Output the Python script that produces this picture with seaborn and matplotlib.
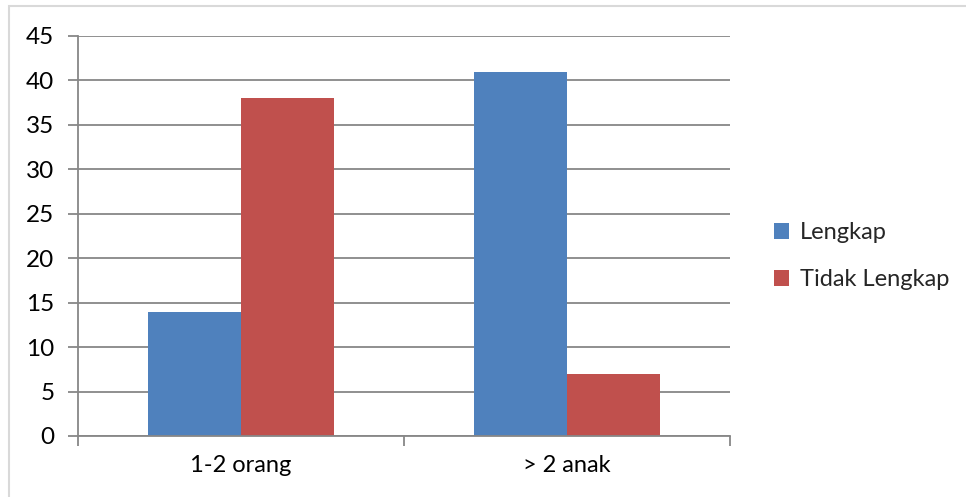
import matplotlib
matplotlib.use("Agg")
import matplotlib.pyplot as plt
from matplotlib.patches import Rectangle
import seaborn as sns
import pandas as pd

categories = ["1-2 orang", "> 2 anak"]
series_names = ["Lengkap", "Tidak Lengkap"]
lengkap = [14, 41]
tidak_lengkap = [38, 7]
y_ticks = [0, 5, 10, 15, 20, 25, 30, 35, 40, 45]

colors = ["#4F81BD", "#C0504D"]
grid_color = "#878787"

df = pd.DataFrame({
    "kategori": categories * 2,
    "seri": [series_names[0]] * 2 + [series_names[1]] * 2,
    "nilai": lengkap + tidak_lengkap,
})

sns.set_theme(style="white")
plt.rcParams["font.family"] = ["Lato", "DejaVu Sans"]

W, H = 966, 497
fig = plt.figure(figsize=(W / 100, H / 100), dpi=100)
fig.patch.set_facecolor("white")

# outer chart frame (only top and left edges visible)
fig.add_artist(Rectangle((9 / W, -0.05), 1.2, 1 - 5.5 / H + 0.05,
                         transform=fig.transFigure, fill=False,
                         edgecolor="#D9D9D9", linewidth=1.5))

ax = fig.add_axes([78 / W, (H - 436) / H, (730 - 78) / W, (436 - 36) / H])

sns.barplot(data=df, x="kategori", y="nilai", hue="seri", order=categories,
            hue_order=series_names, palette=colors, width=0.568,
            saturation=1, ax=ax, legend=True)
for p in ax.patches:
    p.set_edgecolor("none")

ax.set_xlim(-0.5, 1.5)
ax.set_ylim(0, 45)
ax.set_yticks(y_ticks)
ax.set_yticklabels([str(v) for v in y_ticks])
ax.yaxis.grid(True, color=grid_color, linewidth=1.3)
ax.set_axisbelow(True)
ax.set_xlabel("")
ax.set_ylabel("")

for side in ["top", "right"]:
    ax.spines[side].set_visible(False)
for side in ["left", "bottom"]:
    ax.spines[side].set_color(grid_color)
    ax.spines[side].set_linewidth(1.3)

ax.tick_params(axis="y", which="major", length=7, width=1.3, color=grid_color,
               labelsize=17.5, pad=10, left=True)
ax.set_xticks([0, 1])
ax.set_xticklabels(categories)
ax.set_xticks([-0.5, 0.5, 1.5], minor=True)
ax.tick_params(axis="x", which="major", length=0, labelsize=17, pad=14)
ax.tick_params(axis="x", which="minor", length=7, width=1.3, color=grid_color,
               bottom=True)
for lbl in ax.get_xticklabels() + ax.get_yticklabels():
    lbl.set_color("black")

leg = ax.legend(loc="center left", bbox_to_anchor=(1.035, 0.45), frameon=False,
                fontsize=17, handlelength=0.65, handleheight=0.65,
                handletextpad=0.45, labelspacing=1.1)

fig.savefig("out.png", dpi=100, facecolor="white")
